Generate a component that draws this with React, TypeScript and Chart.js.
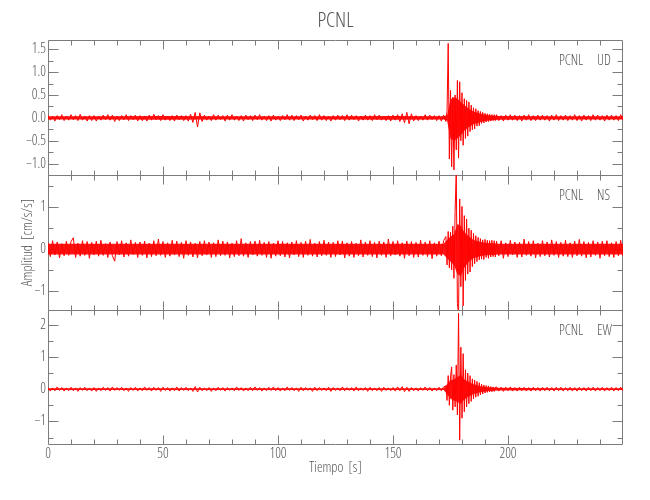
import React, { useEffect, useRef } from 'react';
import { Chart, registerables } from 'chart.js';

Chart.register(...registerables);

const FONT = "'Open Sans', 'Liberation Sans', sans-serif";
const FONT_WEIGHT = '300 condensed';
const AXIS_COLOR = '#7c7c7c';
const TEXT_COLOR = '#555555';
const TRACE_COLOR = '#ff0000';
const BAND_COLOR = 'rgba(255,0,0,0.92)';

const STATION = 'PCNL';
const COMPONENTS = ['UD', 'NS', 'EW'];
const X_TITLE = 'Tiempo  [s]';
const Y_TITLE = 'Amplitud  [cm/s/s]';

const PRE_START = 0; // 1 s samples, 0..172
const EVENT_START = 173; // 0.5 s samples, 173..194.5
const EVENT_DT = 0.5;
const POST_START = 195; // 1 s samples, 195..250

// ---- UD (cm/s/s) ----
const udPre = [
  0.06, -0.05, 0.04, -0.07, 0.05, -0.04, 0.07, -0.06, 0.04, -0.05,
  0.07, -0.04, 0.05, -0.06, 0.08, -0.05, 0.04, -0.07, 0.05, -0.06,
  0.05, -0.07, 0.04, -0.05, 0.06, -0.04, 0.07, -0.05, 0.06, -0.08,
  0.04, -0.06, 0.05, -0.04, 0.07, -0.06, 0.05, -0.04, 0.06, -0.07,
  0.05, -0.06, 0.04, -0.07, 0.06, -0.05, 0.08, -0.04, 0.05, -0.06,
  0.07, -0.05, 0.04, -0.06, 0.05, -0.07, 0.06, -0.04, 0.05, -0.06,
  0.05, -0.07, 0.08, -0.1, 0.12, -0.2, 0.11, -0.08, 0.06, -0.05,
  0.04, -0.06, 0.07, -0.05, 0.06, -0.04, 0.05, -0.07, 0.06, -0.05,
  0.07, -0.05, 0.04, -0.06, 0.05, -0.07, 0.06, -0.04, 0.05, -0.06,
  0.06, -0.04, 0.07, -0.05, 0.04, -0.06, 0.05, -0.07, 0.06, -0.05,
  0.04, -0.06, 0.05, -0.04, 0.07, -0.05, 0.06, -0.06, 0.05, -0.04,
  0.06, -0.07, 0.04, -0.05, 0.06, -0.04, 0.05, -0.06, 0.07, -0.05,
  0.05, -0.06, 0.04, -0.07, 0.05, -0.05, 0.06, -0.04, 0.05, -0.06,
  0.07, -0.05, 0.06, -0.04, 0.05, -0.07, 0.04, -0.05, 0.06, -0.05,
  0.05, -0.06, 0.07, -0.04, 0.06, -0.05, 0.04, -0.06, 0.05, -0.07,
  0.06, -0.05, 0.07, -0.08, 0.09, -0.11, 0.12, -0.13, 0.09, -0.07,
  0.05, -0.06, 0.04, -0.05, 0.07, -0.05, 0.06, -0.04, 0.05, -0.06,
  0.05, -0.07, 0.06,
];
const udEvent = [
  -0.08, 0.15, 1.63, -0.9, 0.6, -1.07, 0.45, -1.14, 0.5, -0.7,
  0.82, -0.88, 0.79, -0.5, 0.55, -0.6, 0.42, -0.45, 0.38, -0.4,
  0.35, -0.3, 0.28, -0.26, 0.22, -0.24, 0.2, -0.18, 0.16, -0.17,
  0.14, -0.12, 0.12, -0.11, 0.1, -0.09, 0.09, -0.08, 0.08, -0.07,
  0.07, -0.06, 0.07, -0.06,
];
const udPost = [
  0.07, -0.06, 0.05, -0.07, 0.06, -0.05, 0.07, -0.05, 0.06, -0.06,
  0.05, -0.07, 0.06, -0.05, 0.07, -0.06, 0.05, -0.06, 0.06, -0.05,
  0.06, -0.05, 0.05, -0.07, 0.06, -0.05, 0.07, -0.06, 0.05, -0.05,
  0.06, -0.06, 0.05, -0.05, 0.07, -0.06, 0.05, -0.07, 0.06, -0.05,
  0.05, -0.06, 0.07, -0.05, 0.06, -0.05, 0.05, -0.07, 0.06, -0.05,
  0.06, -0.05, 0.05, -0.06, 0.07, -0.05,
];

// ---- NS (cm/s/s) ----
const nsPre = [
  0.15, -0.18, 0.2, -0.14, 0.17, -0.21, 0.13, -0.16, 0.19, -0.15,
  0.18, 0.27, -0.2, 0.14, -0.17, 0.2, -0.15, 0.18, -0.22, 0.16,
  -0.14, 0.19, -0.17, 0.21, -0.15, 0.13, -0.2, 0.17, -0.16, -0.29,
  0.18, -0.14, 0.2, -0.19, 0.15, -0.17, 0.22, -0.13, 0.16, -0.2,
  0.17, -0.15, 0.19, -0.21, 0.14, -0.18, 0.2, -0.16, 0.24, -0.15,
  0.18, -0.2, 0.15, -0.17, 0.21, -0.14, 0.19, -0.18, 0.16, -0.22,
  0.2, -0.15, 0.17, -0.19, 0.14, -0.21, 0.18, -0.16, 0.2, -0.14,
  0.17, -0.2, 0.15, -0.18, 0.22, -0.16, 0.19, -0.15, 0.17, -0.21,
  0.14, -0.18, 0.2, -0.16, 0.25, -0.17, 0.15, -0.2, 0.18, -0.14,
  0.19, -0.17, 0.21, -0.15, 0.16, -0.2, 0.18, -0.22, 0.14, -0.17,
  0.2, -0.16, 0.18, -0.19, 0.15, -0.21, 0.17, -0.14, 0.2, -0.18,
  0.16, -0.2, 0.19, -0.15, 0.23, -0.17, 0.14, -0.19, 0.18, -0.16,
  0.21, -0.15, 0.17, -0.2, 0.16, -0.18, 0.2, -0.14, 0.19, -0.21,
  0.15, -0.17, 0.18, -0.2, 0.14, -0.16, 0.22, -0.19, 0.17, -0.15,
  0.2, -0.18, 0.16, -0.21, 0.19, -0.15, 0.17, -0.2, 0.24, -0.16,
  0.18, -0.14, 0.2, -0.17, 0.15, -0.22, 0.19, -0.16, 0.18, -0.2,
  0.16, -0.19, 0.21, -0.15, 0.17, -0.18, 0.2, -0.23, 0.15, -0.17,
  0.19, -0.16, 0.2,
];
const nsEvent = [
  0.3, -0.38, 0.42, -0.45, 0.4, -0.5, 0.55, -0.7, 0.9, 1.85,
  -1.3, -1.55, 1.2, -0.9, 1.02, -1.36, 0.8, -0.75, 0.72, -0.6,
  0.5, -0.55, 0.45, -0.42, 0.38, -0.35, 0.32, -0.3, 0.28, -0.26,
  0.25, -0.24, 0.22, -0.25, 0.23, -0.2, 0.21, -0.22, 0.2, -0.19,
  0.21, -0.18, 0.2, -0.19,
];
const nsPost = [
  0.19, -0.16, 0.2, -0.22, 0.15, -0.18, 0.21, -0.14, 0.17, -0.2,
  0.16, -0.19, 0.24, -0.15, 0.18, -0.17, 0.2, -0.21, 0.14, -0.18,
  0.2, -0.16, 0.17, -0.19, 0.22, -0.15, 0.18, -0.2, 0.16, -0.17,
  0.21, -0.18, 0.15, -0.2, 0.19, -0.16, 0.23, -0.17, 0.18, -0.21,
  0.16, -0.19, 0.2, -0.15, 0.17, -0.22, 0.19, -0.16, 0.2, -0.18,
  0.15, -0.2, 0.18, -0.16, 0.21, -0.17,
];

// ---- EW (cm/s/s) ----
const ewPre = [
  0.05, -0.06, 0.04, -0.05, 0.07, -0.04, 0.05, -0.06, 0.04, -0.05,
  0.06, -0.05, 0.04, -0.07, 0.05, -0.04, 0.06, -0.05, 0.04, -0.06,
  0.05, -0.07, 0.04, -0.05, 0.06, -0.04, 0.05, -0.06, 0.07, -0.04,
  0.05, -0.04, 0.06, -0.05, 0.04, -0.07, 0.05, -0.04, 0.06, -0.06,
  0.04, -0.05, 0.07, -0.04, 0.05, -0.06, 0.06, -0.04, 0.05, -0.07,
  0.06, -0.04, 0.05, -0.06, 0.04, -0.05, 0.07, -0.06, 0.05, -0.04,
  0.06, -0.05, 0.04, -0.07, 0.08, -0.09, 0.06, -0.05, 0.04, -0.05,
  0.05, -0.07, 0.04, -0.05, 0.06, -0.04, 0.05, -0.06, 0.05, -0.04,
  0.04, -0.05, 0.07, -0.04, 0.05, -0.06, 0.04, -0.05, 0.06, -0.05,
  0.07, -0.04, 0.05, -0.06, 0.04, -0.05, 0.06, -0.04, 0.07, -0.05,
  0.05, -0.06, 0.04, -0.05, 0.07, -0.04, 0.05, -0.05, 0.04, -0.07,
  0.06, -0.05, 0.05, -0.04, 0.04, -0.07, 0.06, -0.05, 0.05, -0.04,
  0.04, -0.05, 0.06, -0.07, 0.05, -0.04, 0.04, -0.05, 0.07, -0.05,
  0.05, -0.04, 0.05, -0.06, 0.07, -0.05, 0.04, -0.04, 0.05, -0.07,
  0.06, -0.05, 0.04, -0.05, 0.05, -0.07, 0.06, -0.04, 0.04, -0.05,
  0.05, -0.06, 0.07, -0.05, 0.08, -0.08, 0.06, -0.07, 0.05, -0.05,
  0.04, -0.06, 0.05, -0.04, 0.07, -0.05, 0.05, -0.06, 0.04, -0.05,
  0.06, -0.05, 0.07,
];
const ewEvent = [
  0.1, -0.35, 0.42, -0.5, 0.38, 0.69, -0.65, 0.45, -0.55, 0.75,
  -0.8, 2.35, -1.58, 1.3, -0.9, 1.1, -0.7, 0.6, -0.55, 0.5,
  -0.45, 0.42, -0.38, 0.32, -0.3, 0.28, -0.25, 0.24, -0.22, 0.2,
  -0.18, 0.16, -0.15, 0.13, -0.12, 0.11, -0.1, 0.1, -0.09, 0.08,
  -0.08, 0.07, -0.07, 0.06,
];
const ewPost = [
  0.07, -0.06, 0.06, -0.07, 0.06, -0.05, 0.07, -0.06, 0.05, -0.06,
  0.06, -0.05, 0.06, -0.06, 0.05, -0.06, 0.06, -0.05, 0.05, -0.06,
  0.06, -0.05, 0.06, -0.05, 0.05, -0.06, 0.06, -0.05, 0.06, -0.06,
  0.05, -0.05, 0.06, -0.06, 0.05, -0.06, 0.06, -0.05, 0.05, -0.06,
  0.06, -0.05, 0.06, -0.06, 0.05, -0.05, 0.06, -0.06, 0.05, -0.05,
  0.06, -0.06, 0.05, -0.05, 0.06, -0.05,
];

// dense-noise envelope (solid core of each trace), read at these times (s)
const envTimes = [0, 25, 50, 75, 100, 125, 150, 172, 173.5, 175, 176.5, 178, 179.5, 181, 183, 185, 187.5, 190, 193, 196, 220, 250];
const udEnvUpper = [0.035, 0.035, 0.04, 0.035, 0.035, 0.035, 0.04, 0.035, 0.06, 0.4, 0.45, 0.42, 0.35, 0.28, 0.2, 0.14, 0.1, 0.07, 0.05, 0.04, 0.035, 0.035];
const udEnvLower = [-0.035, -0.035, -0.04, -0.035, -0.035, -0.035, -0.04, -0.035, -0.06, -0.45, -0.5, -0.45, -0.38, -0.28, -0.2, -0.14, -0.1, -0.07, -0.05, -0.04, -0.035, -0.035];
const nsEnvUpper = [0.13, 0.13, 0.13, 0.13, 0.13, 0.13, 0.13, 0.13, 0.22, 0.3, 0.35, 0.6, 0.55, 0.4, 0.3, 0.22, 0.18, 0.15, 0.14, 0.13, 0.13, 0.13];
const nsEnvLower = [-0.13, -0.13, -0.13, -0.13, -0.13, -0.13, -0.13, -0.13, -0.22, -0.3, -0.38, -0.6, -0.65, -0.45, -0.3, -0.22, -0.18, -0.15, -0.14, -0.13, -0.13, -0.13];
const ewEnvUpper = [0.03, 0.03, 0.03, 0.03, 0.03, 0.03, 0.03, 0.03, 0.15, 0.28, 0.3, 0.38, 0.45, 0.3, 0.22, 0.15, 0.1, 0.07, 0.05, 0.04, 0.03, 0.03];
const ewEnvLower = [-0.03, -0.03, -0.03, -0.03, -0.03, -0.03, -0.03, -0.03, -0.15, -0.3, -0.35, -0.4, -0.45, -0.32, -0.22, -0.15, -0.1, -0.07, -0.05, -0.04, -0.03, -0.03];

// axis ranges and tick steps per panel
const X_MIN = 0;
const X_MAX = 250;
const X_MAJOR = 50;
const X_MINOR = 10;
const Y_MIN = [-1.253, -1.46, -1.73];
const Y_MAX = [1.7, 1.77, 2.45];
const Y_MAJOR = [0.5, 1, 1];
const Y_MINOR = [0.25, 0.5, 0.5];
const Y_DECIMALS = [1, 0, 0];
const Y_IDS = ['y1', 'y2', 'y3'];

function buildTrace(pre: number[], ev: number[], post: number[]) {
  const pts: { x: number; y: number }[] = [];
  pre.forEach((v, i) => pts.push({ x: PRE_START + i, y: v }));
  ev.forEach((v, i) => pts.push({ x: EVENT_START + i * EVENT_DT, y: v }));
  post.forEach((v, i) => pts.push({ x: POST_START + i, y: v }));
  return pts;
}
const buildEnv = (vals: number[]) => vals.map((v, i) => ({ x: envTimes[i], y: v }));

const isMult = (v: number, s: number) => Math.abs(v / s - Math.round(v / s)) < 1e-6;
const fmt = (v: number, d: number) => {
  const s = Math.abs(v).toFixed(d);
  return v < -1e-9 ? '\u2212' + s : s;
};

const framePlugin = {
  id: 'seisFrame',
  beforeDatasetsDraw(chart: any) {
    const { ctx, chartArea } = chart;
    const xs = chart.scales.x;
    const L = Math.round(chartArea.left) + 0.5;
    const R = Math.round(chartArea.right) - 0.5;
    ctx.save();
    ctx.strokeStyle = AXIS_COLOR;
    ctx.lineWidth = 1;
    Y_IDS.forEach((id, k) => {
      const s = chart.scales[id];
      const T = Math.round(s.top) + 0.5;
      const B = Math.round(s.bottom) + (k === 2 ? -0.5 : 0.5);
      ctx.beginPath();
      ctx.rect(L, T, R - L, B - T);
      s.ticks.forEach((t: any) => {
        if (!isMult(t.value, Y_MINOR[k])) return;
        const len = isMult(t.value, Y_MAJOR[k]) ? 10 : 5;
        const y = Math.round(s.getPixelForValue(t.value)) + 0.5;
        ctx.moveTo(L, y);
        ctx.lineTo(L + len, y);
        ctx.moveTo(R, y);
        ctx.lineTo(R - len, y);
      });
      xs.ticks.forEach((t: any) => {
        if (!isMult(t.value, X_MINOR) || t.value <= X_MIN || t.value >= X_MAX) return;
        const len = isMult(t.value, X_MAJOR) ? 9 : 5;
        const x = Math.round(xs.getPixelForValue(t.value)) + 0.5;
        ctx.moveTo(x, T);
        ctx.lineTo(x, T + len);
        ctx.moveTo(x, B);
        ctx.lineTo(x, B - len);
      });
      ctx.stroke();
      // panel label
      ctx.fillStyle = TEXT_COLOR;
      ctx.font = `${FONT_WEIGHT} 14px ${FONT}`;
      ctx.textBaseline = 'middle';
      ctx.textAlign = 'left';
      ctx.fillText(STATION, chartArea.right - 64, s.top + 21);
      ctx.fillText(COMPONENTS[k], chartArea.right - 26, s.top + 21);
    });
    ctx.restore();
  },
};

export default function App() {
  const ref = useRef<HTMLCanvasElement>(null);

  useEffect(() => {
    if (!ref.current) return;
    const traces = [
      buildTrace(udPre, udEvent, udPost),
      buildTrace(nsPre, nsEvent, nsPost),
      buildTrace(ewPre, ewEvent, ewPost),
    ];
    const envs = [
      [buildEnv(udEnvUpper), buildEnv(udEnvLower)],
      [buildEnv(nsEnvUpper), buildEnv(nsEnvLower)],
      [buildEnv(ewEnvUpper), buildEnv(ewEnvLower)],
    ];
    const tickFont = { family: FONT, size: 14, weight: FONT_WEIGHT };

    // stacked panels: the last-defined axis is placed on top
    const yScales: any = {};
    [2, 1, 0].forEach((k) => {
      yScales[Y_IDS[k]] = {
        type: 'linear',
        position: 'left',
        stack: 'panels',
        stackWeight: 1,
        min: Y_MIN[k],
        max: Y_MAX[k],
        grid: { display: false, drawTicks: false },
        border: { display: false },
        ticks: {
          stepSize: Y_MINOR[k],
          includeBounds: false,
          autoSkip: false,
          padding: 2,
          color: TEXT_COLOR,
          font: tickFont,
          callback: (v: number) => (isMult(v, Y_MAJOR[k]) ? fmt(v, Y_DECIMALS[k]) : ''),
        },
        title: {
          display: k === 1,
          text: Y_TITLE,
          color: TEXT_COLOR,
          font: { family: FONT, size: 14, weight: FONT_WEIGHT },
          padding: { top: 12, bottom: 0 },
        },
        afterFit: (s: any) => {
          s.width = 40;
        },
      };
    });

    const traceSets = traces.map((pts, k) => ({
      label: `${STATION} ${COMPONENTS[k]}`,
      data: pts,
      yAxisID: Y_IDS[k],
      xAxisID: 'x',
      borderColor: TRACE_COLOR,
      borderWidth: 1,
      pointRadius: 0,
      tension: 0,
      fill: false,
      order: 1,
    }));
    const bandSets: any[] = [];
    envs.forEach(([up, lo], k) => {
      bandSets.push({
        label: `env+ ${COMPONENTS[k]}`,
        data: up,
        yAxisID: Y_IDS[k],
        xAxisID: 'x',
        borderWidth: 0,
        borderColor: 'rgba(0,0,0,0)',
        backgroundColor: BAND_COLOR,
        pointRadius: 0,
        tension: 0,
        fill: '+1',
        order: 2,
      });
      bandSets.push({
        label: `env- ${COMPONENTS[k]}`,
        data: lo,
        yAxisID: Y_IDS[k],
        xAxisID: 'x',
        borderWidth: 0,
        borderColor: 'rgba(0,0,0,0)',
        backgroundColor: BAND_COLOR,
        pointRadius: 0,
        tension: 0,
        fill: false,
        order: 2,
      });
    });

    const chart = new Chart(ref.current, {
      type: 'line',
      data: { datasets: [...bandSets, ...traceSets] },
      options: {
        animation: false,
        responsive: true,
        maintainAspectRatio: false,
        layout: { padding: { left: 8, right: 27, top: 0, bottom: 0 } },
        plugins: {
          legend: { display: false },
          tooltip: { enabled: false },
          title: {
            display: true,
            text: STATION,
            fullSize: false,
            color: TEXT_COLOR,
            font: { family: FONT, size: 21, weight: FONT_WEIGHT },
            padding: { top: 8, bottom: 7 },
          },
        },
        scales: {
          x: {
            type: 'linear',
            position: 'bottom',
            min: X_MIN,
            max: X_MAX,
            grid: { display: false, drawTicks: false },
            border: { display: false },
            ticks: {
              stepSize: X_MINOR,
              includeBounds: false,
              autoSkip: false,
              maxRotation: 0,
              padding: 1,
              color: TEXT_COLOR,
              font: tickFont,
              callback: (v: number) => (isMult(v, X_MAJOR) && v < X_MAX ? String(v) : ''),
            },
            title: {
              display: true,
              text: X_TITLE,
              color: TEXT_COLOR,
              font: { family: FONT, size: 14, weight: FONT_WEIGHT },
              padding: { top: 0, bottom: 24 },
            },
            afterFit: (s: any) => {
              s.height = 55;
            },
          },
          ...yScales,
        },
      } as any,
      plugins: [framePlugin],
    });
    return () => chart.destroy();
  }, []);

  return (
    <div style={{ position: 'fixed', left: 0, top: 0, width: 650, height: 500, background: '#fff' }}>
      <canvas ref={ref} />
    </div>
  );
}
